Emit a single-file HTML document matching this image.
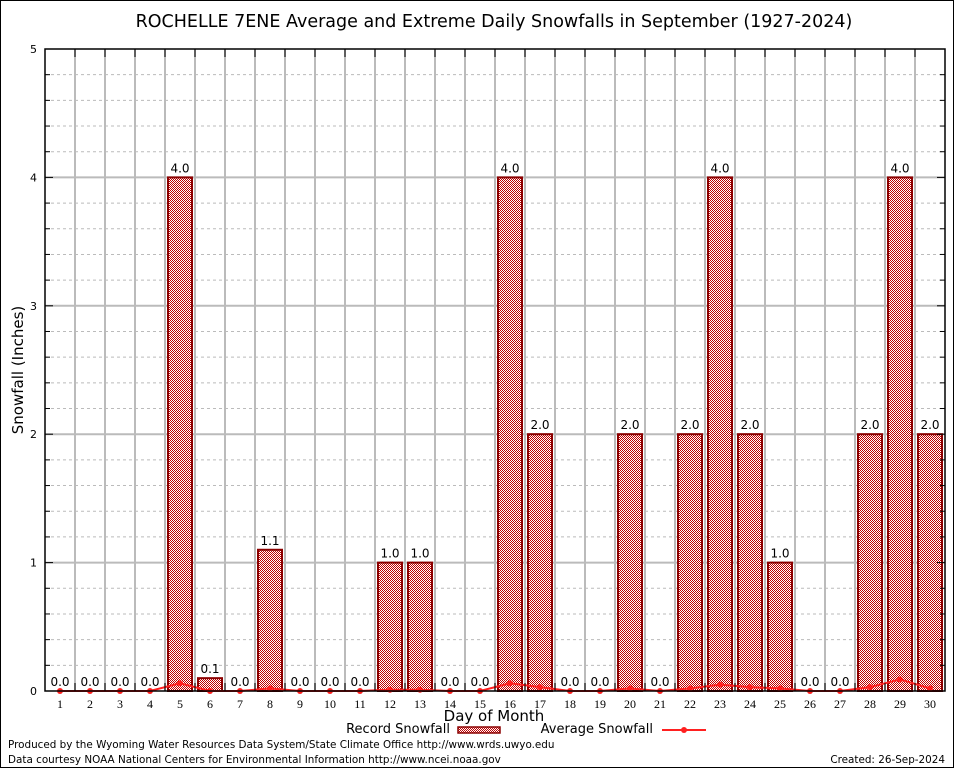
<!DOCTYPE html>
<html><head><meta charset="utf-8"><style>
html,body{margin:0;padding:0;background:#fff}
svg{display:block;font-family:"DejaVu Sans","Liberation Sans",sans-serif}
</style></head><body>
<svg id="chart" width="954" height="768" viewBox="0 0 954 768">
<defs>
<pattern id="hatch" width="2" height="2" patternUnits="userSpaceOnUse">
<rect width="2" height="2" fill="#fff"/>
<rect x="0" y="0" width="1" height="1" fill="#c00000"/>
<rect x="1" y="1" width="1" height="1" fill="#c00000"/>
</pattern>
</defs>
<rect x="0.5" y="0.5" width="953" height="767" fill="#fff" stroke="#000"/>
<text x="494" y="27" font-size="17.5" text-anchor="middle" fill="#000">ROCHELLE 7ENE Average and Extreme Daily Snowfalls in September (1927-2024)</text>
<g id="grid"></g>
<g id="bars"></g>
<g id="avg"></g>
<g id="axes"></g>
<text x="23" y="370" font-size="15" text-anchor="middle" transform="rotate(-90 23 370)">Snowfall (Inches)</text>
<text x="494" y="721" font-size="15" text-anchor="middle">Day of Month</text>
<g>
<text x="450" y="733" font-size="13" text-anchor="end">Record Snowfall</text>
<rect x="458" y="727" width="42" height="6" fill="url(#hatch)" stroke="#8b0000" stroke-width="1.5"/>
<text x="653" y="733" font-size="13" text-anchor="end">Average Snowfall</text>
<line x1="662" y1="730" x2="706" y2="730" stroke="#ff2020" stroke-width="2"/>
<circle cx="684" cy="730" r="3" fill="#ff2020"/>
</g>
<text x="8" y="748" font-size="10.4">Produced by the Wyoming Water Resources Data System/State Climate Office http://www.wrds.uwyo.edu</text>
<text x="8" y="763" font-size="10.4">Data courtesy NOAA National Centers for Environmental Information http://www.ncei.noaa.gov</text>
<text x="945" y="763" font-size="10.4" text-anchor="end">Created: 26-Sep-2024</text>
</svg>
<script>
const days = [1,2,3,4,5,6,7,8,9,10,11,12,13,14,15,16,17,18,19,20,21,22,23,24,25,26,27,28,29,30];
const recordSnow = [0,0,0,0,4.0,0.1,0,1.1,0,0,0,1.0,1.0,0,0,4.0,2.0,0,0,2.0,0,2.0,4.0,2.0,1.0,0,0,2.0,4.0,2.0];
const avgSnow = [0,0,0,0,0.06,0,0,0.02,0,0,0,0.01,0.01,0,0,0.06,0.03,0,0,0.02,0,0.02,0.05,0.03,0.02,0,0,0.03,0.09,0.02];
const yTicks = [0,1,2,3,4,5];

const NS='http://www.w3.org/2000/svg';
const L=45,R=945,T=49,B=691,yMax=5;
const x=d=>L+(d-0.5)*(R-L)/30;
const y=v=>B-v*(B-T)/yMax;
function mk(tag,attrs,parent){const e=document.createElementNS(NS,tag);for(const k in attrs)e.setAttribute(k,attrs[k]);parent.appendChild(e);return e;}
const grid=document.getElementById('grid'),bars=document.getElementById('bars'),avg=document.getElementById('avg'),axes=document.getElementById('axes');

for(let v=0.2;v<yMax;v+=0.2){
  if(Math.abs(v-Math.round(v))<1e-6)continue;
  const l=mk('line',{x1:L,x2:R,y1:y(v),y2:y(v),stroke:'#bbb','stroke-dasharray':'3,3'},grid);
  
  
  mk('line',{x1:L,x2:L+5,y1:y(v),y2:y(v),stroke:'#000'},axes);
  mk('line',{x1:R,x2:R-5,y1:y(v),y2:y(v),stroke:'#000'},axes);
}
yTicks.forEach(v=>{
  if(v>0&&v<yMax){const l=mk('line',{x1:L,x2:R,y1:y(v),y2:y(v),stroke:'#bbb','stroke-width':2},grid);
  
  }
  mk('line',{x1:L,x2:L+8,y1:y(v),y2:y(v),stroke:'#000'},axes);
  mk('line',{x1:R,x2:R-8,y1:y(v),y2:y(v),stroke:'#000'},axes);
  const t=mk('text',{x:L-8,y:y(v)+4,'font-size':11,'text-anchor':'end'},axes);t.textContent=v;
  
  
});
for(let i=1;i<30;i++){
  const xv=x(i+0.5);
  const l=mk('line',{x1:xv,x2:xv,y1:T,y2:B,stroke:'#bbb','stroke-width':2},grid);
  
  
  mk('line',{x1:xv,x2:xv,y1:T,y2:T+8,stroke:'#000'},axes);
  mk('line',{x1:xv,x2:xv,y1:B,y2:B-8,stroke:'#000'},axes);
}
days.forEach((d,i)=>{
  const v=recordSnow[i],cx=x(d);
  if(v>0){const r=mk('rect',{x:cx-12,y:y(v),width:24,height:B-y(v),fill:'url(#hatch)',stroke:'#8b0000','stroke-width':2},bars);
  
  }
  const t=mk('text',{x:cx,y:y(v)-5,'font-size':12,'text-anchor':'middle'},bars);t.textContent=v.toFixed(1);
  
  
  const xl=mk('text',{x:cx,y:B+17,'font-size':12,'text-anchor':'middle','font-family':'Liberation Serif, serif'},axes);xl.textContent=d;
  
  
});
const pl=mk('polyline',{points:days.map((d,i)=>x(d)+','+y(avgSnow[i])).join(' '),fill:'none',stroke:'#ff2020','stroke-width':2},avg);


days.forEach((d,i)=>{const c=mk('circle',{cx:x(d),cy:y(avgSnow[i]),r:3,fill:'#ff2020'},avg);
  
  });
const fr=mk('rect',{x:L,y:T,width:R-L,height:B-T,fill:'none',stroke:'#000','stroke-width':1.5},axes);


</script>
</body></html>
